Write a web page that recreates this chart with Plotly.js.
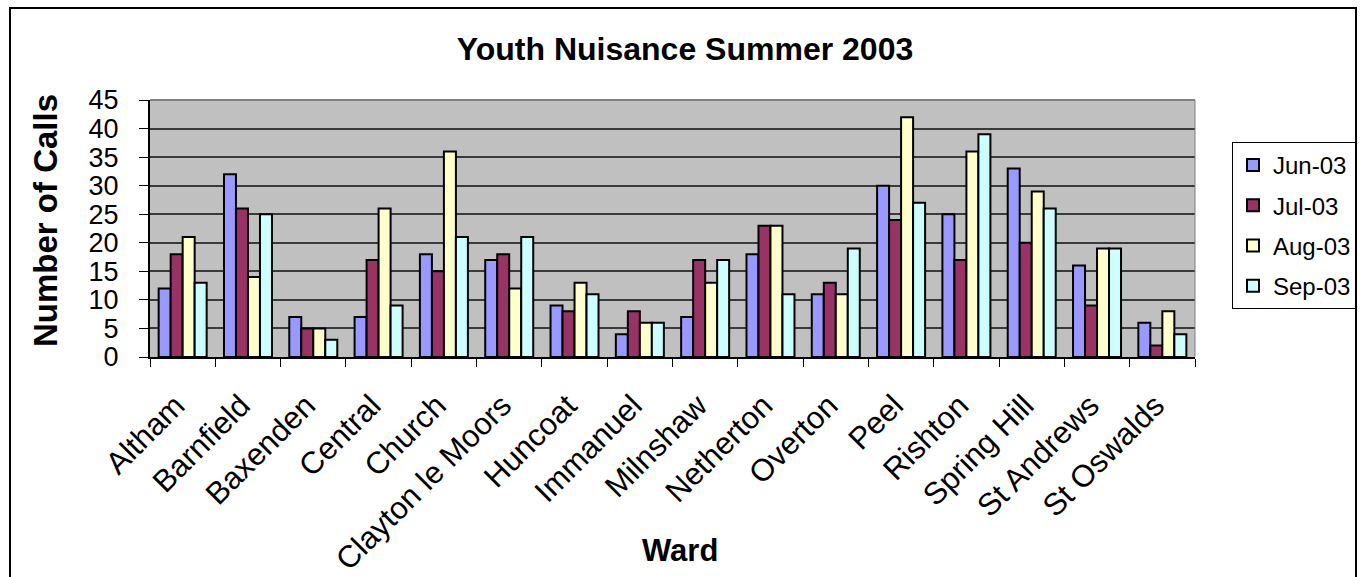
<!DOCTYPE html>
<html>
<head>
<meta charset="utf-8">
<script src="https://cdn.plot.ly/plotly-3.0.1.min.js"></script>
<style>
html,body{margin:0;padding:0;background:#fff;}
#wrap{position:relative;width:1361px;height:577px;overflow:hidden;}
#frame{position:absolute;left:9px;top:7px;width:1348px;height:600px;border:2px solid #000;box-sizing:border-box;pointer-events:none;}
#chart{position:absolute;left:0;top:0;width:1361px;height:577px;}
</style>
</head>
<body>
<div id="wrap">
<div id="chart"></div>
<div id="frame"></div>
</div>
<script>
const wards = ["Altham","Barnfield","Baxenden","Central","Church","Clayton le Moors","Huncoat","Immanuel","Milnshaw","Netherton","Overton","Peel","Rishton","Spring Hill","St Andrews","St Oswalds"];
const jun03 = [12,32,7,7,18,17,9,4,7,18,11,30,25,33,16,6];
const jul03 = [18,26,5,17,15,18,8,8,17,23,13,24,17,20,9,2];
const aug03 = [21,14,5,26,36,12,13,6,13,23,11,42,36,29,19,8];
const sep03 = [13,25,3,9,21,21,11,6,17,11,19,27,39,26,19,4];
const seriesNames = ["Jun-03","Jul-03","Aug-03","Sep-03"];
const seriesColors = ["#9999FF","#993366","#FFFFCC","#CCFFFF"];
const yTicks = [0,5,10,15,20,25,30,35,40,45];

const allSeries = [jun03, jul03, aug03, sep03];
const traces = allSeries.map((vals, i) => ({
  type: "bar",
  name: seriesNames[i],
  x: wards,
  y: vals,
  legendgroup: "g" + i,
  marker: {color: seriesColors[i], line: {color: "#000", width: 2}},
  hoverinfo: "x+y+name"
}));

const font = "Arial, 'Liberation Sans', sans-serif";
const layout = {
  width: 1361, height: 577,
  margin: {l: 150, r: 166, t: 100, b: 220, pad: 0},
  paper_bgcolor: "rgba(0,0,0,0)",
  plot_bgcolor: "#C0C0C0",
  barmode: "group",
  bargap: 0.265,
  bargroupgap: 0,
  showlegend: true,
  title: {
    text: "<b>Youth Nuisance Summer 2003</b>",
    font: {family: font, size: 32, color: "#000"},
    x: 685/1361, xref: "container", xanchor: "center",
    y: 1 - 49/577, yref: "container", yanchor: "middle"
  },
  xaxis: {
    type: "category",
    tickangle: -45,
    tickson: "boundaries",
    ticks: "outside", ticklen: 8, tickcolor: "#000", tickwidth: 1,
    ticklabelstandoff: 16,
    ticklabelshift: -7,
    tickfont: {family: font, size: 31, color: "#000"},
    showline: true, linecolor: "#000", linewidth: 2,
    showgrid: false,
    automargin: false
  },
  yaxis: {
    range: [0, 45],
    tickvals: yTicks,
    ticktext: yTicks.map(String),
    ticks: "outside", ticklen: 9, tickcolor: "#000", tickwidth: 1,
    ticklabelstandoff: 15,
    tickfont: {family: font, size: 27, color: "#000"},
    showline: true, linecolor: "#000", linewidth: 2,
    showgrid: true, gridcolor: "#3a3a3a", gridwidth: 1.5,
    zeroline: false,
    automargin: false
  },
  legend: {
    xref: "container", yref: "container",
    x: 1232/1361, y: 1 - 142/577, xanchor: "left", yanchor: "top",
    bgcolor: "#fff", bordercolor: "#000", borderwidth: 1,
    font: {family: font, size: 24, color: "#000"},
    tracegroupgap: 6,
    itemwidth: 30
  },
  annotations: [{
    text: "<b>Number of Calls</b>", xref: "paper", yref: "paper",
    x: (45-150)/1045, y: (357-221)/257, xanchor: "center", yanchor: "middle",
    textangle: -90, showarrow: false,
    font: {family: font, size: 33, color: "#000"}
  }, {
    text: "<b>Ward</b>", xref: "paper", yref: "paper",
    x: (680-150)/1045, y: -(550-357)/257, xanchor: "center", yanchor: "middle",
    showarrow: false, font: {family: font, size: 31, color: "#000"}
  }],
  shapes: [{
    type: "line", xref: "paper", yref: "paper", x0: 0, x1: 1, y0: 1, y1: 1,
    line: {color: "#808080", width: 2}
  }, {
    type: "line", xref: "paper", yref: "paper", x0: 1, x1: 1, y0: 0, y1: 1,
    line: {color: "#808080", width: 1}
  }]
};

Plotly.newPlot("chart", traces, layout, {displayModeBar: false});
</script>
</body>
</html>
